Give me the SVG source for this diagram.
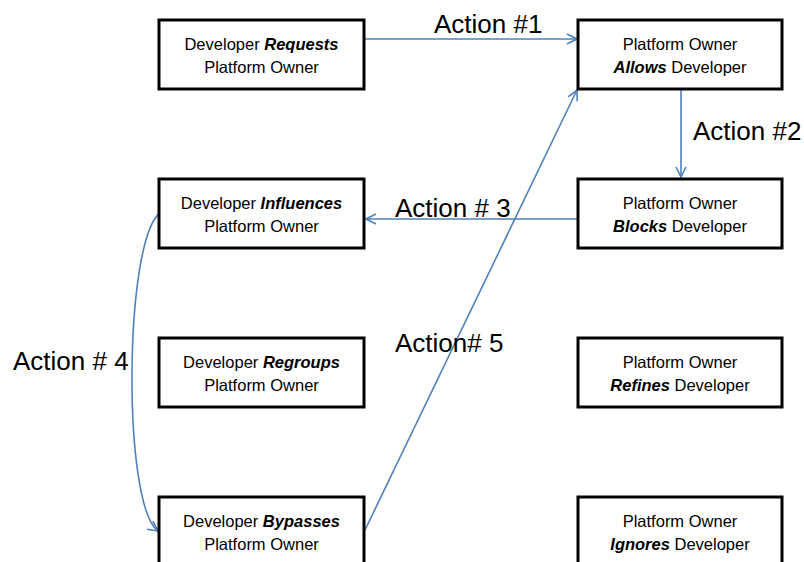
<svg xmlns="http://www.w3.org/2000/svg" width="804" height="562" viewBox="0 0 804 562">
  <style>
    .box { fill: #ffffff; stroke: #000000; stroke-width: 3; }
    .txt { font-family: "Liberation Sans", Arial, sans-serif; font-size: 16.5px; fill: #000000; text-anchor: middle; }
    .em { font-weight: bold; font-style: italic; }
    .lbl { font-family: "Liberation Sans", Arial, sans-serif; font-size: 26px; fill: #000000; }
    .conn { fill: none; stroke: #4f81bd; stroke-width: 1.6; marker-end: url(#arrow); }
  </style>
  <defs>
    <marker id="arrow" viewBox="0 0 12 12" refX="11" refY="6" markerWidth="12" markerHeight="12" markerUnits="userSpaceOnUse" orient="auto">
      <path d="M1,1 L11,6 L1,11" fill="none" stroke="#4f81bd" stroke-width="1.6"/>
    </marker>
  </defs>

  <rect width="804" height="562" fill="#ffffff"/>

  <g id="connectors">
    <!-- Action #1: Requests -> Allows -->
    <line class="conn" x1="365" y1="39" x2="577" y2="39"/>
    <!-- Action #2: Allows -> Blocks -->
    <line class="conn" x1="681" y1="87" x2="681" y2="177"/>
    <!-- Action #3: Blocks -> Influences -->
    <line class="conn" x1="577" y1="219" x2="366" y2="219"/>
    <!-- Action #4: Influences -> Bypasses (curved) -->
    <path class="conn" d="M160,213 C124,240 122,505 158,531"/>
    <!-- Action #5: Bypasses -> Allows -->
    <line class="conn" x1="365" y1="530" x2="577" y2="90"/>
  </g>

  <g id="labels">
    <text class="lbl" x="434" y="33">Action #1</text>
    <text class="lbl" x="693" y="140">Action #2</text>
    <text class="lbl" x="395" y="217">Action # 3</text>
    <text class="lbl" x="13" y="370">Action # 4</text>
    <text class="lbl" x="395" y="352">Action# 5</text>
  </g>

  <g id="dev-requests">
    <rect class="box" x="159" y="20" width="205" height="69"/>
    <text class="txt" x="261.5" y="50">Developer <tspan class="em">Requests</tspan></text>
    <text class="txt" x="261.5" y="73">Platform Owner</text>
  </g>
  <g id="owner-allows">
    <rect class="box" x="578" y="20" width="204" height="69"/>
    <text class="txt" x="680" y="50">Platform Owner</text>
    <text class="txt" x="680" y="73"><tspan class="em">Allows</tspan> Developer</text>
  </g>
  <g id="dev-influences">
    <rect class="box" x="159" y="179" width="205" height="69"/>
    <text class="txt" x="261.5" y="209">Developer <tspan class="em">Influences</tspan></text>
    <text class="txt" x="261.5" y="232">Platform Owner</text>
  </g>
  <g id="owner-blocks">
    <rect class="box" x="578" y="179" width="204" height="69"/>
    <text class="txt" x="680" y="209">Platform Owner</text>
    <text class="txt" x="680" y="232"><tspan class="em">Blocks</tspan> Developer</text>
  </g>
  <g id="dev-regroups">
    <rect class="box" x="159" y="338" width="205" height="69"/>
    <text class="txt" x="261.5" y="368">Developer <tspan class="em">Regroups</tspan></text>
    <text class="txt" x="261.5" y="391">Platform Owner</text>
  </g>
  <g id="owner-refines">
    <rect class="box" x="578" y="338" width="204" height="69"/>
    <text class="txt" x="680" y="368">Platform Owner</text>
    <text class="txt" x="680" y="391"><tspan class="em">Refines</tspan> Developer</text>
  </g>
  <g id="dev-bypasses">
    <rect class="box" x="159" y="497" width="205" height="69"/>
    <text class="txt" x="261.5" y="527">Developer <tspan class="em">Bypasses</tspan></text>
    <text class="txt" x="261.5" y="550">Platform Owner</text>
  </g>
  <g id="owner-ignores">
    <rect class="box" x="578" y="497" width="204" height="69"/>
    <text class="txt" x="680" y="527">Platform Owner</text>
    <text class="txt" x="680" y="550"><tspan class="em">Ignores</tspan> Developer</text>
  </g>
</svg>
